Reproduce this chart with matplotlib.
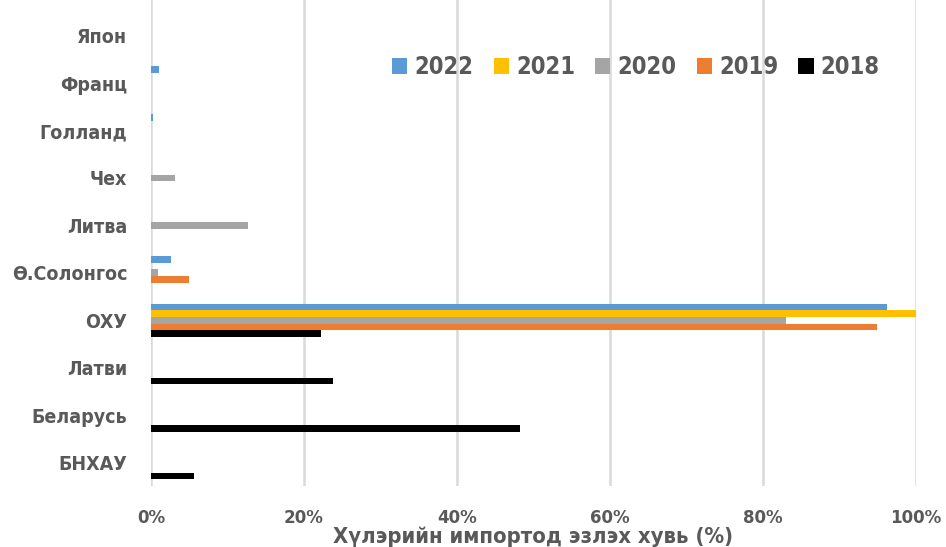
import numpy as np
import matplotlib.pyplot as plt

# Өгөгдөл (доороос дээш)
countries = ["БНХАУ", "Беларусь", "Латви", "ОХУ", "Ө.Солонгос",
             "Литва", "Чех", "Голланд", "Франц", "Япон"]
years = ["2022", "2021", "2020", "2019", "2018"]
colors = ["#5B9BD5", "#FFC000", "#A5A5A5", "#ED7D31", "#000000"]

share_2022 = [0, 0, 0, 96.2, 2.6, 0, 0, 0.2, 1.0, 0]
share_2021 = [0, 0, 0, 100.0, 0, 0, 0, 0, 0, 0]
share_2020 = [0, 0, 0, 83.0, 0.9, 12.7, 3.1, 0, 0, 0]
share_2019 = [0, 0, 0, 95.0, 5.0, 0, 0, 0, 0, 0]
share_2018 = [5.6, 48.2, 23.8, 22.2, 0, 0, 0, 0, 0, 0]
series = [share_2022, share_2021, share_2020, share_2019, share_2018]

grey = "#595959"
fnt = dict(family="DejaVu Sans", stretch="condensed", weight="bold")

fig = plt.figure(figsize=(9.46, 5.47), dpi=100)
ax = fig.add_axes([0.1596, 0.111, 0.8084, 0.889])

y = np.arange(len(countries))
h = 0.14
for i, (yr, vals, c) in enumerate(zip(years, series, colors)):
    ax.barh(y + (2 - i) * h, vals, height=h, color=c, label=yr, zorder=3)

ax.set_xlim(0, 100)
ax.set_ylim(-0.5, 9.75)
ax.set_xticks(np.arange(0, 101, 20))
ax.set_xticklabels([f"{v}%" for v in range(0, 101, 20)], color=grey,
                   fontsize=13.3, **fnt)
ax.set_yticks(y)
ax.set_yticklabels(countries, color=grey, fontsize=14, **fnt)
ax.grid(axis="x", color="#D9D9D9", linewidth=1.8, zorder=0)
ax.tick_params(length=0)
ax.tick_params(axis="y", pad=17)
ax.tick_params(axis="x", pad=16)
for s in ax.spines.values():
    s.set_visible(False)

fig.text(533 / 946, 1 - 537 / 547, "Хүлэрийн импортод эзлэх хувь (%)",
         ha="center", va="center", fontsize=15.8, color=grey, **fnt)

leg = ax.legend(ncol=5, loc="upper right", bbox_to_anchor=(0.981, 0.930),
                frameon=False, handlelength=0.65, handleheight=0.65,
                handletextpad=0.3, columnspacing=0.85,
                prop={"family": "DejaVu Sans", "stretch": "condensed",
                      "weight": "bold", "size": 17})
for t in leg.get_texts():
    t.set_color(grey)

fig.savefig("out.png", dpi=100)
